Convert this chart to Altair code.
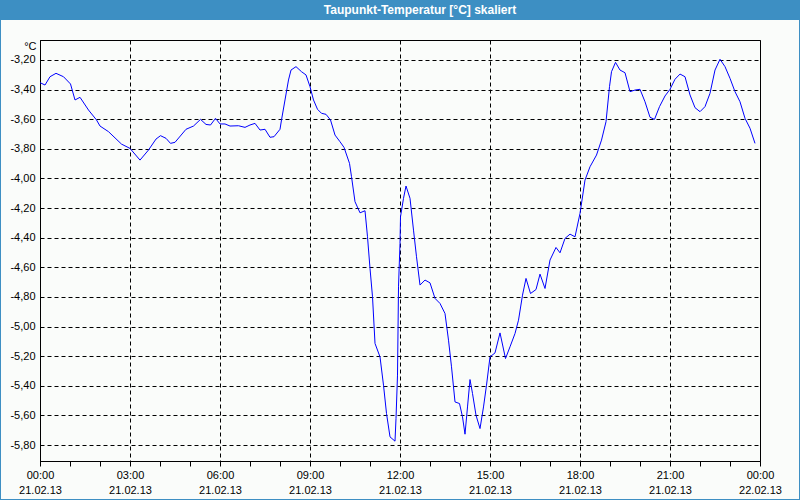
import altair as alt
import pandas as pd

# ---- data ----
minutes = [0, 10, 20, 32, 47, 61, 70, 80, 97, 113, 120, 137, 163, 180, 200, 217, 232, 241, 252, 261,
           270, 292, 307, 321, 332, 341, 351, 360, 370, 380, 397, 410, 420, 430, 440, 450, 460, 468,
           480, 483, 490, 497, 502, 512, 523, 532, 540, 547, 555, 563, 572, 581, 590, 600, 608, 619,
           623, 630, 640, 650, 655, 660, 665, 670, 680, 687, 693, 700, 710, 712, 715, 717, 720, 721,
           727, 732, 740, 747, 753, 760, 770, 780, 790, 800, 810, 817, 823, 830, 839, 845, 850, 855,
           860, 865, 872, 880, 887, 893, 900, 910, 920, 931, 940, 950, 957, 965, 972, 981, 992, 1000,
           1010, 1020, 1032, 1040, 1050, 1060, 1070, 1080, 1090, 1100, 1113, 1123, 1132, 1139, 1143,
           1151, 1160, 1170, 1180, 1190, 1200, 1210, 1220, 1229, 1239, 1250, 1260, 1270, 1280, 1290,
           1300, 1310, 1320, 1330, 1340, 1350, 1360, 1370, 1380, 1390, 1400, 1410, 1420, 1430]
values = [-3.353, -3.369, -3.313, -3.290, -3.313, -3.362, -3.470, -3.452, -3.538, -3.605, -3.646,
          -3.684, -3.768, -3.797, -3.876, -3.808, -3.734, -3.711, -3.729, -3.763, -3.756, -3.668,
          -3.646, -3.601, -3.635, -3.639, -3.594, -3.632, -3.632, -3.646, -3.644, -3.655, -3.639,
          -3.628, -3.673, -3.668, -3.722, -3.718, -3.668, -3.605, -3.470, -3.335, -3.268, -3.245,
          -3.279, -3.301, -3.380, -3.470, -3.533, -3.560, -3.567, -3.605, -3.707, -3.752, -3.790,
          -3.898, -3.988, -4.157, -4.232, -4.218, -4.394, -4.607, -4.799, -5.114, -5.205, -5.396,
          -5.587, -5.745, -5.774, -5.621, -5.328, -4.732, -4.439, -4.259, -4.134, -4.051, -4.134,
          -4.349, -4.529, -4.720, -4.686, -4.705, -4.810, -4.844, -4.912, -5.092, -5.272, -5.509,
          -5.520, -5.610, -5.727, -5.543, -5.358, -5.452, -5.599, -5.689, -5.543, -5.396, -5.205,
          -5.178, -5.043, -5.216, -5.137, -5.047, -4.957, -4.788, -4.675, -4.777, -4.750, -4.646,
          -4.743, -4.551, -4.466, -4.502, -4.405, -4.376, -4.394, -4.236, -4.011, -3.921, -3.842,
          -3.741, -3.617, -3.380, -3.279, -3.216, -3.268, -3.286, -3.414, -3.403, -3.398, -3.482,
          -3.587, -3.601, -3.515, -3.443, -3.398, -3.330, -3.295, -3.313, -3.436, -3.522, -3.549,
          -3.515, -3.425, -3.268, -3.195, -3.245, -3.324, -3.414, -3.482, -3.594, -3.661, -3.763]

title_text = "Taupunkt-Temperatur [°C] skaliert"
unit_label = "°C"
y_ticks = [-3.2, -3.4, -3.6, -3.8, -4.0, -4.2, -4.4, -4.6, -4.8, -5.0, -5.2, -5.4, -5.6, -5.8]
x_ticks = list(range(0, 25))
day1 = "21.02.13"
day2 = "22.02.13"

FONT = "Liberation Sans"
BLUE = "#3d8fc3"

df = pd.DataFrame({"hour": [m / 60 for m in minutes], "value": values})

x_label_expr = (
    "datum.value % 3 == 0 ? ["
    "((datum.value % 24) < 10 ? '0' : '') + (datum.value % 24) + ':00', "
    f"datum.value < 24 ? '{day1}' : '{day2}'] : ''"
)
y_label_expr = "replace(replace(format(datum.value, '.2f'), '.', ','), '\u2212', '-')"

x_enc = alt.X(
    "hour:Q",
    scale=alt.Scale(domain=[0, 24], nice=False, zero=False),
    axis=alt.Axis(
        values=x_ticks, title=None, labelExpr=x_label_expr, labelFlush=False,
        labelOverlap=False, tickSize=5, tickColor="black", domainColor="black",
        grid=True, gridColor="black", gridDash=[4, 3],
        gridOpacity={"condition": {"test": "datum.value % 3 == 0", "value": 1}, "value": 0},
        labelFont=FONT, labelFontSize=11, labelColor="black", labelPadding=3,
        labelLineHeight=15,
    ),
)
y_enc = alt.Y(
    "value:Q",
    scale=alt.Scale(domain=[-5.908, -3.065], nice=False, zero=False),
    axis=alt.Axis(
        values=y_ticks, labelExpr=y_label_expr, ticks=False, labelPadding=5,
        grid=True, gridColor="black", gridDash=[4, 3], domainColor="black",
        labelFont=FONT, labelFontSize=11, labelColor="black", labelOverlap=False,
        title=unit_label, titleAngle=0, titleX=-4, titleY=6, titleAlign="right",
        titleBaseline="middle", titleFontWeight="normal", titleFont=FONT,
        titleFontSize=11, titleColor="black",
    ),
)

line = alt.Chart(df).mark_line(color="#0000ff", strokeWidth=1).encode(x=x_enc, y=y_enc)

tdf = pd.DataFrame({"t": [title_text]})
bar = alt.Chart(tdf).mark_rect(color=BLUE).encode(
    x=alt.value(-40), x2=alt.value(760), y=alt.value(-40), y2=alt.value(-20)
)
ttl = alt.Chart(tdf).mark_text(
    color="white", font=FONT, fontSize=12, fontWeight="bold", align="center", baseline="middle"
).encode(x=alt.value(380), y=alt.value(-30), text="t:N")
frame_l = alt.Chart(tdf).mark_rule(color=BLUE, strokeWidth=2).encode(
    x=alt.value(-40), y=alt.value(-20), y2=alt.value(460))
frame_r = alt.Chart(tdf).mark_rule(color=BLUE, strokeWidth=2).encode(
    x=alt.value(760), y=alt.value(-20), y2=alt.value(460))
frame_b = alt.Chart(tdf).mark_rule(color=BLUE, strokeWidth=2).encode(
    x=alt.value(-40), x2=alt.value(760), y=alt.value(460))

chart = alt.layer(line, bar, ttl, frame_l, frame_r, frame_b).properties(
    width=720, height=421,
    padding={"left": 40, "top": 40, "right": 40, "bottom": 39},
    autosize=alt.AutoSizeParams(type="none"),
    background="#fafcfa",
).configure_view(stroke="black", strokeWidth=1)

chart.save("out.html", embed_options={"renderer": "svg", "actions": False})
